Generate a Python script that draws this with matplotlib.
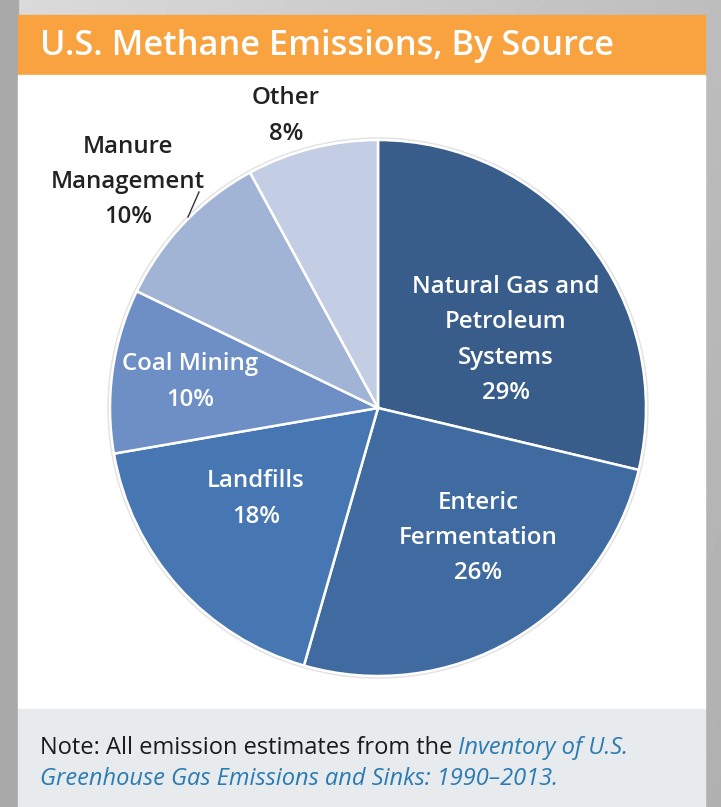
import numpy as np
import matplotlib.pyplot as plt
from matplotlib.patches import Rectangle, Circle

# data
sources = ['Natural Gas and\nPetroleum\nSystems', 'Enteric\nFermentation', 'Landfills',
           'Coal Mining', 'Manure\nManagement', 'Other']
shares = [29, 26, 18, 10, 10, 8]
colors = ['#385d8a', '#3f6ba0', '#4777b3', '#6d8fc5', '#a2b4d5', '#c3cde3']
label_colors = ['white', 'white', 'white', 'white', '#222222', '#222222']

title = 'U.S. Methane Emissions, By Source'
note_plain = 'Note: All emission estimates from the '
note_ital1 = 'Inventory of U.S.'
note_ital2 = 'Greenhouse Gas Emissions and Sinks: 1990\u20132013.'

FONT = 'Open Sans'
W, H = 721, 807
fig = plt.figure(figsize=(W / 100, H / 100), dpi=100)
r = fig.canvas.get_renderer()


def fit(txt, width):
    # scale font so the text spans the given pixel width
    ext = txt.get_window_extent(renderer=r)
    txt.set_fontsize(txt.get_fontsize() * width / ext.width)


# background with gray frame
bg = fig.add_axes([0, 0, 1, 1])
bg.set_xlim(0, W)
bg.set_ylim(H, 0)
bg.axis('off')
X, Y = np.meshgrid(np.linspace(0, 1, 200), np.linspace(0, 1, 200))
grad = 0.86 - 0.12 * X - 0.05 * Y
bg.imshow(grad, cmap='gray', vmin=0, vmax=1, extent=[0, W, H, 0], aspect='auto', zorder=0)
bg.add_patch(Rectangle((0, 0), 18, H, color='#a9a9a9', zorder=1))
bg.add_patch(Rectangle((18, 15), 687, 60, color='#f8a33f', zorder=2))
bg.add_patch(Rectangle((18, 75), 687, 634, color='white', zorder=2))
bg.add_patch(Rectangle((18, 709), 687, 98, color='#e8ebee', zorder=2))

tt = bg.text(40, 46, title, color='white', fontsize=20, fontfamily=FONT,
             fontweight='semibold', va='center', ha='left', zorder=3)
fit(tt, 573)

n1 = bg.text(40, 748, note_plain, color='#1a1a1a', fontsize=13, fontfamily=FONT,
             va='center', ha='left', zorder=3)
n2 = bg.text(40, 748, note_ital1, color='#2b7bb3', fontsize=13, style='italic',
             fontfamily=FONT, va='center', ha='left', zorder=3)
w1 = n1.get_window_extent(renderer=r).width
w2 = n2.get_window_extent(renderer=r).width
for n in (n1, n2):
    n.set_fontsize(13 * 587 / (w1 + w2))
w1 = n1.get_window_extent(renderer=r).width
n2.set_x(40 + w1)
bg.text(40, 779, note_ital2, color='#2b7bb3', fontsize=n1.get_fontsize(), style='italic',
        fontfamily=FONT, va='center', ha='left', zorder=3)

# pie: one data unit = rad pixels
cx, cy, rad = 378, 408, 268
lim = 1.02
half = rad * lim
ax = fig.add_axes([(cx - half) / W, (H - cy - half) / H, 2 * half / W, 2 * half / H])
ax.add_patch(Circle((0, 0), 1.005, facecolor='none', edgecolor='#e3e3e3', lw=2, zorder=0))
wedges, _ = ax.pie(shares, colors=colors, startangle=90, counterclock=False, radius=1,
                   wedgeprops=dict(edgecolor='white', linewidth=1.8))
ax.set_xlim(-lim, lim)
ax.set_ylim(-lim, lim)
ax.axis('off')

# label positions in pixels (layout only)
label_px = [(506, 340), (478, 538), (256, 499), (190, 382), (128, 182), (286, 116)]
probe = ax.text(0, 0, 'Natural Gas and', fontsize=15, fontfamily=FONT, fontweight='semibold')
lab_size = 15 * 188 / probe.get_window_extent(renderer=r).width
probe.remove()
for name, val, (px, py), c in zip(sources, shares, label_px, label_colors):
    ax.text((px - cx) / rad, (cy - py) / rad, f'{name}\n{val}%',
            color=c, fontsize=lab_size, fontfamily=FONT, fontweight='semibold',
            ha='center', va='center', linespacing=1.62)

# leader line for manure
ax.plot([(188 - cx) / rad, (199 - cx) / rad], [(cy - 217) / rad, (cy - 192) / rad],
        color='#333333', lw=1)

fig.savefig('out.png', dpi=100)
